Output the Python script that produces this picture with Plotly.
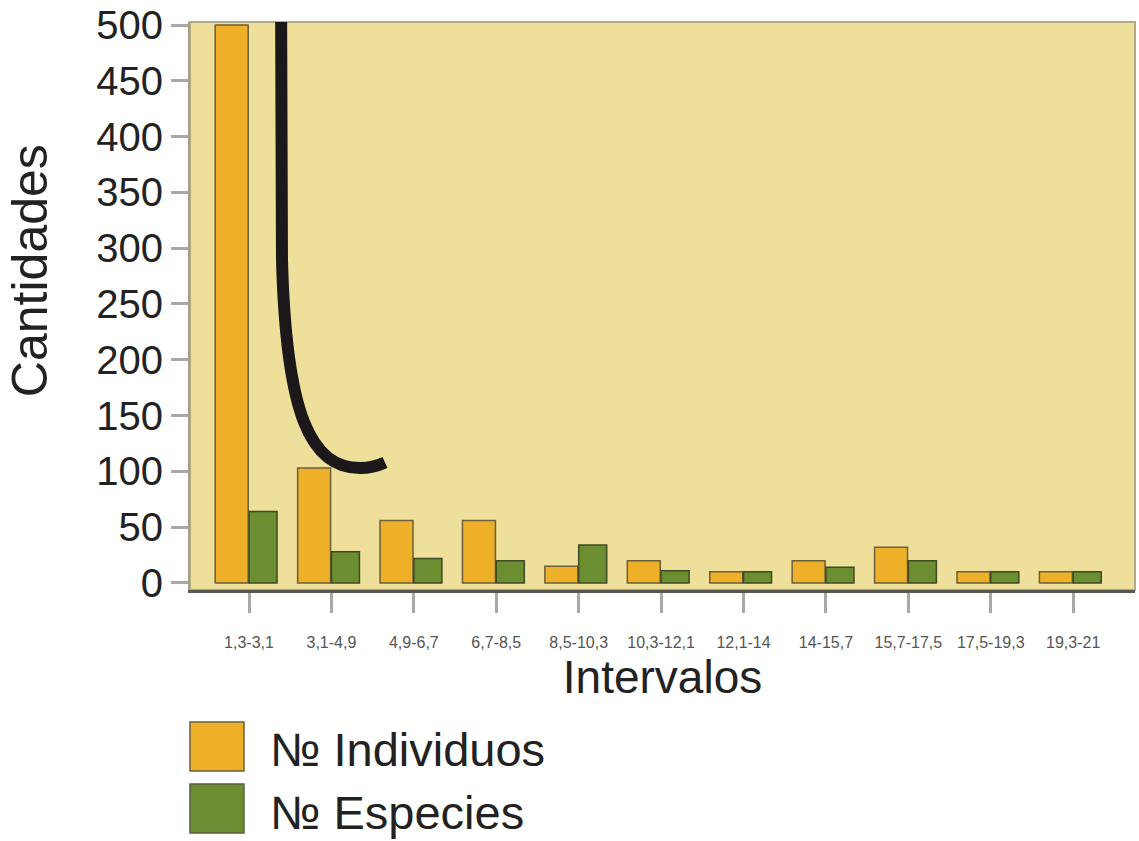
import plotly.graph_objects as go

categories = ["1,3-3,1", "3,1-4,9", "4,9-6,7", "6,7-8,5", "8,5-10,3", "10,3-12,1",
              "12,1-14", "14-15,7", "15,7-17,5", "17,5-19,3", "19,3-21"]
individuos = [500, 103, 56, 56, 15, 20, 10, 20, 32, 10, 10]
especies = [64, 28, 22, 20, 34, 11, 10, 14, 20, 10, 10]
y_ticks = [0, 50, 100, 150, 200, 250, 300, 350, 400, 450, 500]

ORANGE = "#EEB028"
GREEN = "#6B8E30"
EDGE = "#6b5f3c"
BG = "#EEDF9A"
FONT = "Liberation Sans, Arial, sans-serif"

xpos = list(range(len(categories)))

fig = go.Figure()
fig.add_trace(go.Bar(x=xpos, y=individuos, name="№ Individuos", width=0.40, offset=-0.41,
                     marker=dict(color=ORANGE, line=dict(color=EDGE, width=1.5)),
                     showlegend=False))
fig.add_trace(go.Bar(x=xpos, y=especies, name="№ Especies", width=0.34, offset=0.0,
                     marker=dict(color=GREEN, line=dict(color="#3f4a25", width=1.5)),
                     showlegend=False))

shapes = [
    # plot frame
    dict(type="rect", xref="paper", yref="paper", x0=0, x1=1, y0=0, y1=1,
         line=dict(color="#b3aa88", width=2), layer="below"),
    # decorative curve
    dict(type="path", xref="x", yref="y",
         path="M 0.39,503 L 0.40,290 C 0.45,150 0.75,103 1.35,103 Q 1.5,103 1.65,108",
         line=dict(color="#1c1819", width=12), layer="above"),
    # legend squares
    dict(type="rect", xref="paper", yref="paper", x0=0.0, x1=0.0571, y0=-0.3187, y1=-0.2324,
         fillcolor=ORANGE, line=dict(color=EDGE, width=1.5)),
    dict(type="rect", xref="paper", yref="paper", x0=0.0, x1=0.0571, y0=-0.4278, y1=-0.3415,
         fillcolor=GREEN, line=dict(color="#55603a", width=1.5)),
]

annotations = [
    dict(text="№ Individuos", xref="paper", yref="paper", x=0.0825, y=-0.280,
         xanchor="left", yanchor="middle", showarrow=False,
         font=dict(family=FONT, size=47, color="#222")),
    dict(text="№ Especies", xref="paper", yref="paper", x=0.0825, y=-0.392,
         xanchor="left", yanchor="middle", showarrow=False,
         font=dict(family=FONT, size=47, color="#222")),
    # y axis title
    dict(text="Cantidades", xref="paper", yref="paper", x=-0.17, y=0.562,
         xanchor="center", yanchor="middle", textangle=-90, showarrow=False,
         font=dict(family=FONT, size=50, color="#222")),
]

fig.update_layout(
    width=1139, height=841,
    margin=dict(l=190, r=4, t=22, b=251),
    paper_bgcolor="white", plot_bgcolor=BG,
    barmode="overlay",
    shapes=shapes, annotations=annotations,
    font=dict(family=FONT),
    xaxis=dict(
        range=[-0.716, 10.75], tickmode="array", tickvals=xpos, ticktext=categories,
        showgrid=False, zeroline=False,
        showline=True, linecolor="#5a5650", linewidth=3,
        ticks="outside", ticklen=20, tickwidth=3, tickcolor="#a8a8a8",
        ticklabelstandoff=16,
        tickfont=dict(family=FONT, size=16, color="#555"),
        title=dict(text="Intervalos", font=dict(family=FONT, size=46, color="#222"), standoff=8),
    ),
    yaxis=dict(
        range=[-6.3, 502.7], tickmode="array", tickvals=y_ticks,
        showgrid=False, zeroline=False,
        showline=True, linecolor="#a89f80", linewidth=2,
        ticks="outside", ticklen=17, tickwidth=3, tickcolor="#a8a8a8",
        ticklabelstandoff=0,
        tickfont=dict(family=FONT, size=40, color="#222"),
    ),
)

fig.write_html("out.html")
